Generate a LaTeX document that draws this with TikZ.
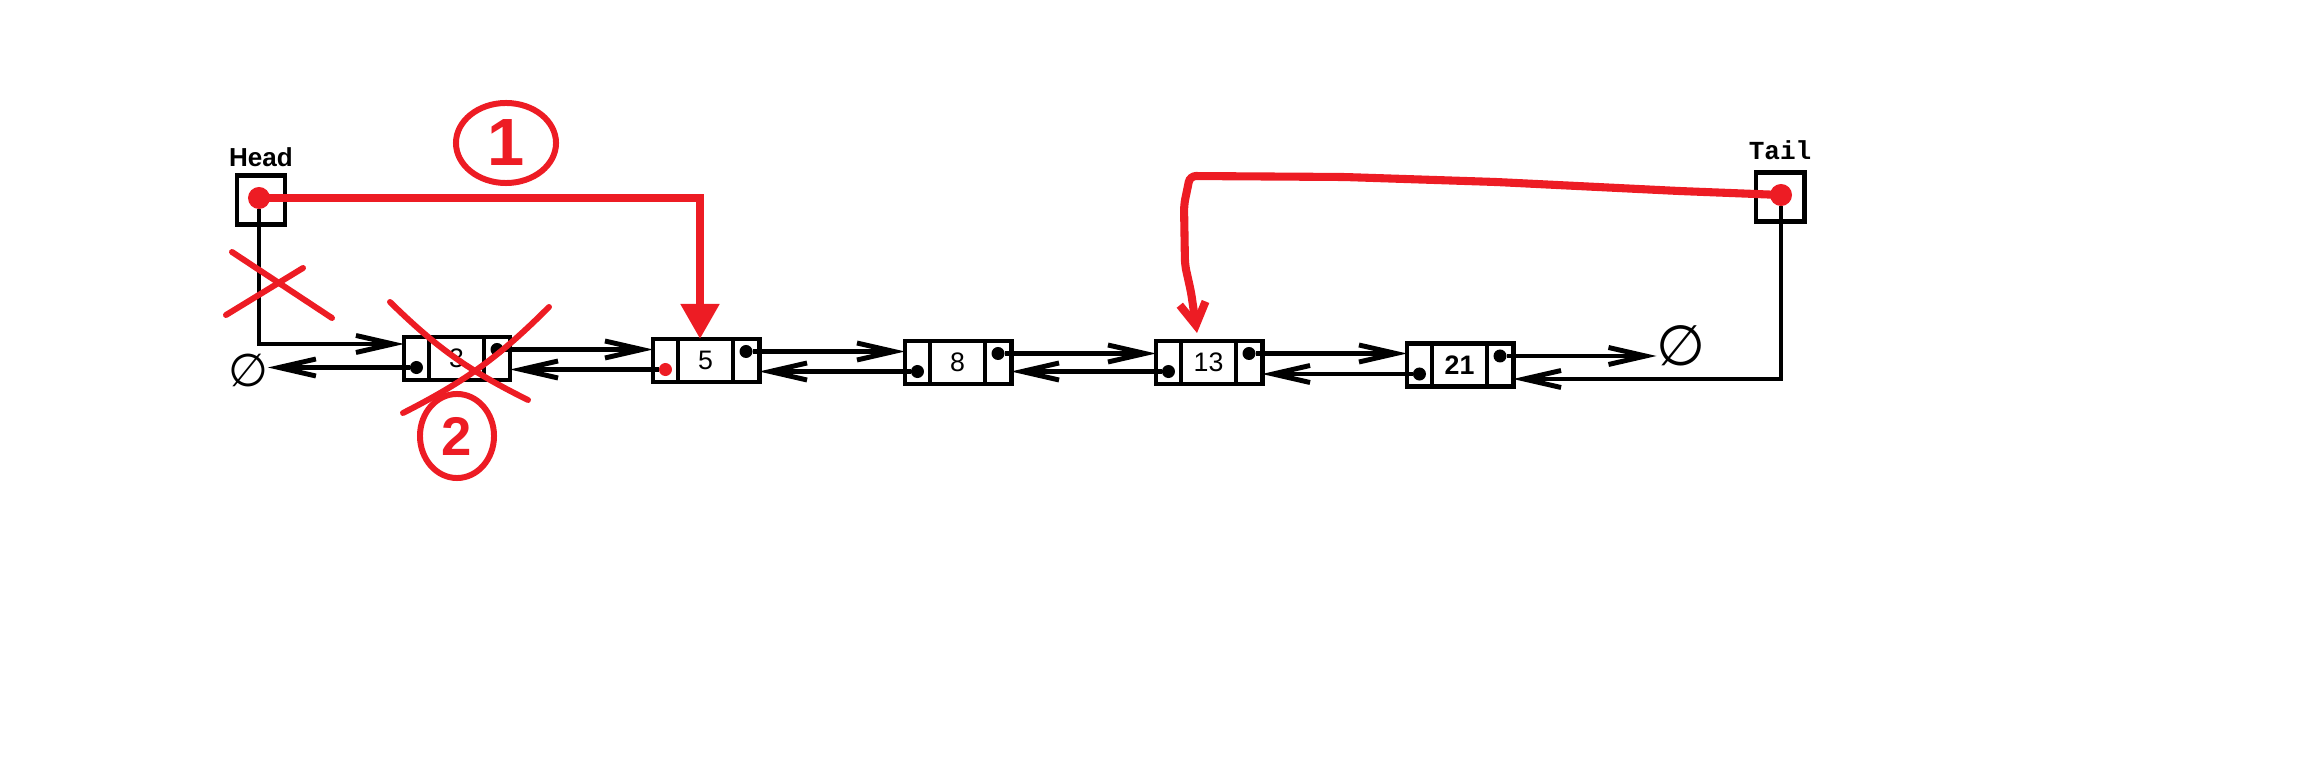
\documentclass[tikz,border=0pt]{standalone}
\usepackage{fontspec}
\setmainfont{Liberation Sans}
\newfontfamily\tailfont{Liberation Mono}
\newfontfamily\djvfont{DejaVu Sans}
\usetikzlibrary{positioning,arrows.meta,shapes.geometric}
\definecolor{paintred}{HTML}{ED1C24}

\tikzset{
  midcell/.style={draw,rectangle,line width=1.4pt,minimum width=0.55cm,minimum height=0.43cm,
    inner sep=0pt,outer sep=0pt,font=\fontsize{7.6}{8}\selectfont},
  prevcell/.style={midcell,minimum width=0.25cm},
  nextcell/.style={midcell,minimum width=0.26cm},
  boxcell/.style={draw,rectangle,line width=1.4pt,minimum width=0.48cm,minimum height=0.49cm,
    inner sep=0pt,outer sep=0pt},
  ptrdot/.style={circle,fill,inner sep=0pt,outer sep=0pt,minimum size=0.13cm},
  nullsym/.style={inner sep=0pt,outer sep=0pt},
  link/.style={line width=1.4pt,-{Straight Barb[length=0.37cm,width=0.17cm]}},
  ptrline/.style={draw=paintred,line width=2.3pt},
  strike/.style={draw=paintred,line width=1.7pt,line cap=round},
  ring/.style={ellipse,draw=paintred,line width=1.7pt,text=paintred,inner sep=0pt,
    font=\bfseries\fontsize{19}{20}\selectfont}
}

\begin{document}
\begin{tikzpicture}[x=0.01cm,y=-0.01cm]
  \useasboundingbox (0,0) rectangle (2300,758);

  \begin{scope}[every node/.style={midcell}]
    \node (v3)  at (456.5,358.5) {3};
    \node (v5)  at (705.5,360.5) {5};
    \node (v8)  at (957.5,362.5) {8};
    \node (v13) at (1208.5,362.5) {13};
    \node (v21) at (1459.5,365)  {\bfseries 21};
  \end{scope}

  \begin{scope}[every node/.style={prevcell}]
    \node[left=0pt of v3]  (p3)  {};
    \node[left=0pt of v5]  (p5)  {};
    \node[left=0pt of v8]  (p8)  {};
    \node[left=0pt of v13] (p13) {};
    \node[left=0pt of v21] (p21) {};
  \end{scope}

  \begin{scope}[every node/.style={nextcell}]
    \node[right=0pt of v3]  (q3)  {};
    \node[right=0pt of v5]  (q5)  {};
    \node[right=0pt of v8]  (q8)  {};
    \node[right=0pt of v13] (q13) {};
    \node[right=0pt of v21] (q21) {};
  \end{scope}

  \node[boxcell] (head) at (261,200) {};
  \node[boxcell] (tail) at (1780,197) {};
  \node[font=\bfseries\fontsize{7.4}{8}\selectfont,inner sep=0pt,above=0.08cm of head] (headtxt) {Head};
  \node[font=\tailfont\bfseries\fontsize{7.4}{8}\selectfont,inner sep=0pt,above=0.12cm of tail] (tailtxt) {Tail};

  \begin{scope}[every node/.style={ptrdot}]
    \node (l3)  at ([yshift=-0.09cm]p3.center)  {};
    \node (r3)  at ([yshift=0.09cm]q3.center)   {};
    \node[fill=paintred] (l5) at ([yshift=-0.09cm]p5.center) {};
    \node (r5)  at ([yshift=0.09cm]q5.center)   {};
    \node (l8)  at ([yshift=-0.09cm]p8.center)  {};
    \node (r8)  at ([yshift=0.09cm]q8.center)   {};
    \node (l13) at ([yshift=-0.09cm]p13.center) {};
    \node (r13) at ([yshift=0.09cm]q13.center)  {};
    \node (l21) at ([yshift=-0.09cm]p21.center) {};
    \node (r21) at ([yshift=0.09cm]q21.center)  {};
    \node[fill=paintred,minimum size=0.22cm] (hdot) at (259,198)  {};
    \node[fill=paintred,minimum size=0.22cm] (tdot) at (1781,195) {};
  \end{scope}

  \node[nullsym,font=\djvfont\fontsize{13}{13}\selectfont] (nil1) at (248,370) {∅};
  \node[nullsym,font=\djvfont\fontsize{16}{16}\selectfont] (nil2) at (1681,346) {∅};

  \draw[link] (r3)  -- (r3 -| p5.west);
  \draw[link] (r5)  -- (r5 -| p8.west);
  \draw[link] (r8)  -- (r8 -| p13.west);
  \draw[link] (r13) -- (r13 -| p21.west);
  \draw[link] (r21) -- (r21 -| nil2.west);
  \draw[link] (l3)  -- (l3 -| nil1.east);
  \draw[link] (l5.west) -- (l5 -| q3.east);
  \draw[link] (l8)  -- (l8 -| q5.east);
  \draw[link] (l13) -- (l13 -| q8.east);
  \draw[link] (l21) -- (l21 -| q13.east);
  \draw[link] (hdot.south) |- ([yshift=0.145cm]p3.west);
  \draw[link] (tdot.south) |- ([yshift=-0.14cm]q21.east);

  \draw[ptrline,-{Triangle[length=0.35cm,width=0.37cm]}] (hdot.center) -| ([xshift=-0.055cm]v5.north);
  \draw[ptrline,rounded corners=0.06cm,-{Straight Barb[length=0.22cm,width=0.26cm]}]
    (tdot.center) -- (1679,191) -- (1496,182) -- (1344,177) -- (1190,176)
    -- (1184,205) -- (1185,265) -- (1191,292) -- ([xshift=-0.115cm,yshift=0.08cm]v13.north);

  \node[ring,minimum width=1.0cm,minimum height=0.8cm] (one) at (506,143) {1};
  \node[ring,minimum width=0.74cm,minimum height=0.84cm,font=\bfseries\fontsize{15.5}{16}\selectfont] (two) at (457,436) {2};

  \draw[strike] (232,252) -- (332,318);
  \draw[strike] (226,315) -- (303,268);
  \draw[strike] (390,302) to[bend right=9] (528,400);
  \draw[strike] (549,307) to[bend left=9] (403,413);
\end{tikzpicture}
\end{document}
